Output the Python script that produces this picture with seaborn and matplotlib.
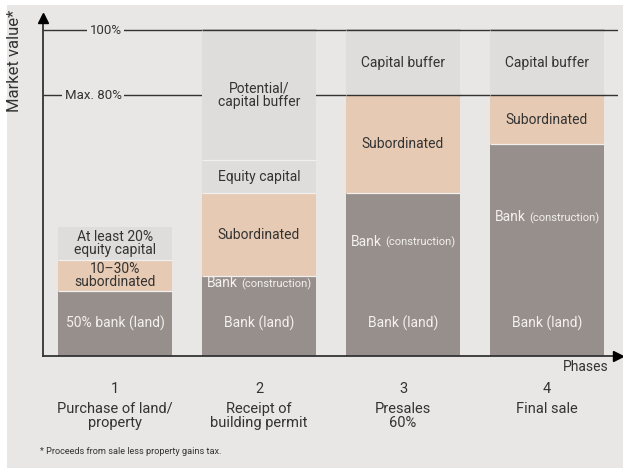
import numpy as np
import pandas as pd
import matplotlib
matplotlib.use("Agg")
import matplotlib.pyplot as plt
import matplotlib.transforms as mtransforms
from matplotlib.offsetbox import TextArea, HPacker, AnnotationBbox
import seaborn as sns

# data (share of market value, %)
phases = ["1", "2", "3", "4"]
phase_names = ["Purchase of land/\nproperty", "Receipt of\nbuilding permit",
               "Presales\n60%", "Final sale"]
bank_land = [20, 20, 20, 20]
bank_construction = [0, 4.5, 30, 45]
subordinated = [9.5, 25.5, 30, 15]
equity = [10, 10, 0, 0]
buffer = [0, 40, 20, 20]

land_labels = ["50% bank (land)", "Bank (land)", "Bank (land)", "Bank (land)"]
sub_labels = ["10\u201330%\nsubordinated", "Subordinated", "Subordinated", "Subordinated"]
eq_labels = ["At least 20%\nequity capital", "Equity capital", "", ""]
buf_labels = ["", "Potential/\ncapital buffer", "Capital buffer", "Capital buffer"]
ref_levels = [100, 80]
ref_labels = ["100%", "Max. 80%"]

BG = "#e8e7e6"
C_BANK = "#978f8b"
C_SUB = "#e6cab3"
C_GRAY = "#dedddc"
DARK = "#333333"
LIGHT = "#f3f0ed"

sns.set_theme(style="white")
plt.rcParams["font.family"] = ["Roboto", "DejaVu Sans"]

df = pd.DataFrame({"phase": phases, "land": bank_land, "constr": bank_construction,
                   "sub": subordinated, "eq": equity, "buf": buffer})
df["c_bank"] = df["land"] + df["constr"]
df["c_sub"] = df["c_bank"] + df["sub"]
df["c_eq"] = df["c_sub"] + df["eq"]
df["c_buf"] = df["c_eq"] + df["buf"]

fig = plt.figure(figsize=(6.23, 4.68), dpi=100, facecolor="white")
bg = plt.Rectangle((7 / 623, 0), 1, 1 - 5 / 468, transform=fig.transFigure,
                   facecolor=BG, edgecolor="none", zorder=-10)
fig.add_artist(bg)
ax = fig.add_axes([43 / 623, 112 / 468, 575 / 623, 338 / 468])
ax.set_facecolor("none")

W = 0.79
for col, color in [("c_buf", C_GRAY), ("c_eq", C_GRAY), ("c_sub", C_SUB), ("c_bank", C_BANK)]:
    sns.barplot(data=df, x="phase", y=col, color=color, saturation=1, width=W,
                errorbar=None, ax=ax, zorder=2, linewidth=0)

ax.set_xlim(-0.5, -0.5 + 575 / 144)
ax.set_ylim(0, 338 / 3.26)

# reference lines behind bars, redrawn on top where a segment edge meets them
xl = ax.get_xlim()
for lvl in ref_levels:
    ax.hlines(lvl, xl[0], xl[1], color=DARK, lw=1.0, zorder=1)
bounds = df[["c_bank", "c_sub", "c_eq", "c_buf"]].to_numpy()
for i in range(len(phases)):
    tops = sorted(set(np.round(bounds[i], 3)))
    for b in tops[:-1]:
        if b in ref_levels:
            continue
        ax.hlines(b, i - W / 2, i + W / 2, color="#f2f0ee", lw=0.9, zorder=3)
    for b in tops:
        if b in ref_levels:
            ax.hlines(b, i - W / 2, i + W / 2, color=DARK, lw=1.0, zorder=4)

tr = mtransforms.blended_transform_factory(ax.transAxes, ax.transData)
for lvl, lab in zip(ref_levels, ref_labels):
    ax.text(0.137, lvl, lab, transform=tr, ha="right", va="center", fontsize=9.5,
            color=DARK, zorder=5,
            bbox=dict(boxstyle="square,pad=0.2", fc=BG, ec="none"))

# segment labels
fs = 10
for i in range(len(phases)):
    r = df.iloc[i]
    ax.text(i, r["land"] / 2, land_labels[i], ha="center", va="center",
            fontsize=fs, color=LIGHT, zorder=6)
    if r["constr"] > 0:
        y = r["land"] + r["constr"] / 2
        box = HPacker(children=[TextArea("Bank", textprops=dict(color=LIGHT, fontsize=fs)),
                                TextArea("(construction)", textprops=dict(color=LIGHT, fontsize=8))],
                      align="baseline", pad=0, sep=2)
        ab = AnnotationBbox(box, (i, y), frameon=False, box_alignment=(0.5, 0.5), zorder=6)
        ax.add_artist(ab)
    for val, base, lab in [(r["sub"], r["c_bank"], sub_labels[i]),
                           (r["eq"], r["c_sub"], eq_labels[i]),
                           (r["buf"], r["c_eq"], buf_labels[i])]:
        if val > 0 and lab:
            ax.text(i, base + val / 2, lab, ha="center", va="center", fontsize=fs,
                    color=DARK, linespacing=0.92, zorder=6)

# axes
sns.despine(ax=ax)
for s in ["left", "bottom"]:
    ax.spines[s].set_color(DARK)
    ax.spines[s].set_linewidth(1.3)
    ax.spines[s].set_zorder(7)
ax.plot([0], [1], marker="^", ms=6.5, color="black", transform=ax.transAxes, clip_on=False, zorder=8)
ax.plot([1], [0], marker=">", ms=6.5, color="black", transform=ax.transAxes, clip_on=False, zorder=8)
ax.set_yticks([])
ax.tick_params(axis="x", length=0, pad=19, labelsize=10.5, labelcolor=DARK)
ax.set_xlabel("")
ax.set_ylabel("")
ax.text(0.984, -0.032, "Phases", transform=ax.transAxes, ha="right", va="center",
        fontsize=10, color=DARK)
for i, name in enumerate(phase_names):
    ax.text(i, -0.135, name, transform=ax.get_xaxis_transform(), ha="center", va="top",
            fontsize=10.5, color=DARK, linespacing=1.0)

fig.text(15 / 623, 1 - 61 / 468, "Market value*", rotation=90, ha="center", va="center",
         fontsize=12, color=DARK)
fig.text(40 / 623, 1 - 452 / 468, "* Proceeds from sale less property gains tax.",
         ha="left", va="center", fontsize=6.6, color=DARK)

fig.savefig("out.png", dpi=100, facecolor="white")
